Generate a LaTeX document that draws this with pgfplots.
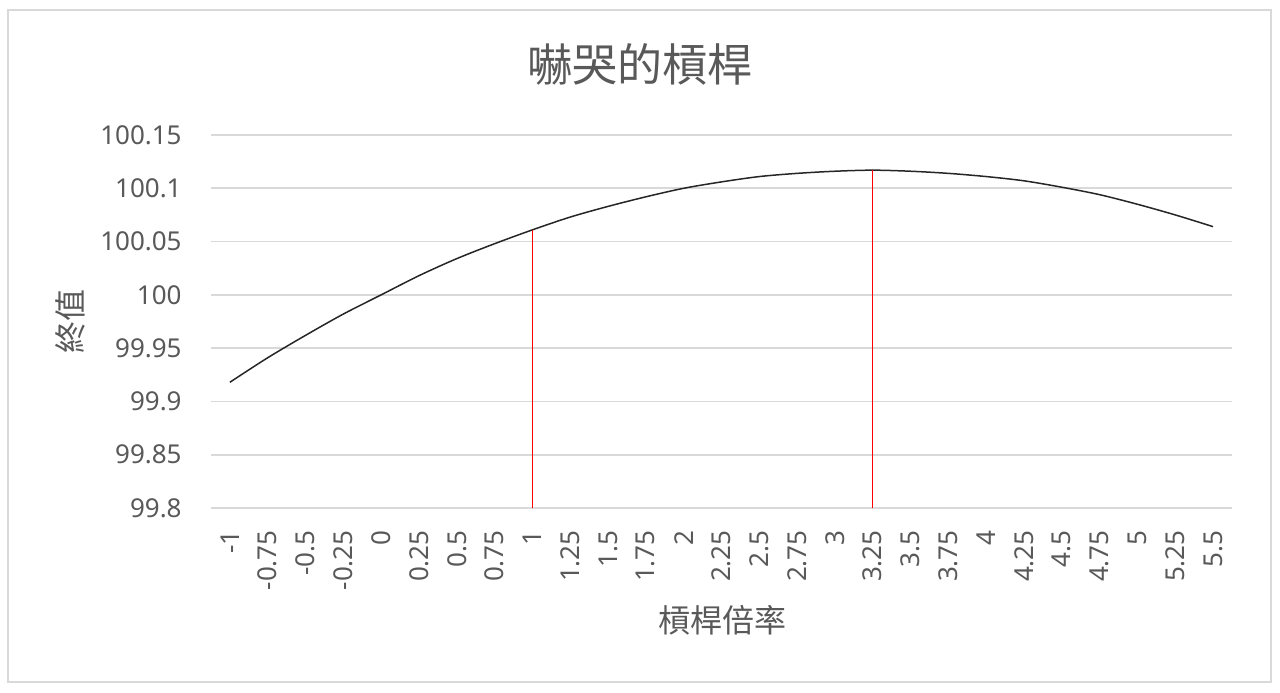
\documentclass[border=0pt]{standalone}
\usepackage{pgfplots}
\pgfplotsset{compat=1.18}
\usepackage{fontspec}
\setmainfont{Noto Sans}
\newfontfamily\cjk{Noto Sans CJK TC}
\definecolor{txt}{HTML}{595959}
\definecolor{grd}{HTML}{D9D9D9}
\begin{document}
\begin{tikzpicture}
\path[use as bounding box] (0,0) rectangle (640bp,346.5bp);
\draw[grd, line width=0.8bp] (4bp,5.5bp) rectangle (635.5bp,341.5bp);
\begin{axis}[
  at={(105.5bp,92.5bp)}, anchor=south west,
  scale only axis, width=510.5bp, height=186.5bp,
  xmin=-1.125, xmax=5.625, ymin=99.8, ymax=100.15,
  axis line style={draw=none},
  major tick length=0pt,
  ymajorgrids, grid style={grd, line width=0.8bp},
  xtick={-1,-0.75,-0.5,-0.25,0,0.25,0.5,0.75,1,1.25,1.5,1.75,2,2.25,2.5,2.75,3,3.25,3.5,3.75,4,4.25,4.5,4.75,5,5.25,5.5},
  xticklabels={-1,-0.75,-0.5,-0.25,0,0.25,0.5,0.75,1,1.25,1.5,1.75,2,2.25,2.5,2.75,3,3.25,3.5,3.75,4,4.25,4.5,4.75,5,5.25,5.5},
  ytick={99.8,99.85,99.9,99.95,100,100.05,100.1,100.15},
  yticklabels={99.8,99.85,99.9,99.95,100,100.05,100.1,100.15},
  xticklabel style={font=\fontsize{13bp}{15bp}\selectfont, text=txt, rotate=90, anchor=east, inner sep=0pt},
  xticklabel shift=11bp,
  yticklabel style={font=\fontsize{13bp}{15bp}\selectfont, text=txt, anchor=east, inner sep=0pt},
  yticklabel shift=14.5bp,
  clip=false,
]
\addplot[black!85, line width=0.75bp, smooth, tension=0.5] coordinates {
(-1,99.918) (-0.75,99.941) (-0.5,99.962) (-0.25,99.982) (0,100.000)
(0.25,100.018) (0.5,100.034) (0.75,100.048) (1,100.061) (1.25,100.073)
(1.5,100.083) (1.75,100.092) (2,100.100) (2.25,100.106) (2.5,100.111)
(2.75,100.114) (3,100.116) (3.25,100.117) (3.5,100.116) (3.75,100.114)
(4,100.111) (4.25,100.107) (4.5,100.101) (4.75,100.094) (5,100.085)
(5.25,100.075) (5.5,100.064)
};
\addplot[red, line width=0.6bp] coordinates {(1,99.8) (1,100.061)};
\addplot[red, line width=0.6bp] coordinates {(3.25,99.8) (3.25,100.117)};
\end{axis}
\node[text=txt, font=\cjk\fontsize{22.5bp}{26bp}\selectfont] at (320bp,314.5bp) {嚇哭的槓桿};
\node[text=txt, font=\cjk\fontsize{16bp}{19bp}\selectfont, rotate=90] at (35bp,185.5bp) {終值};
\node[text=txt, font=\cjk\fontsize{16bp}{19bp}\selectfont] at (361bp,36.5bp) {槓桿倍率};
\end{tikzpicture}
\end{document}
